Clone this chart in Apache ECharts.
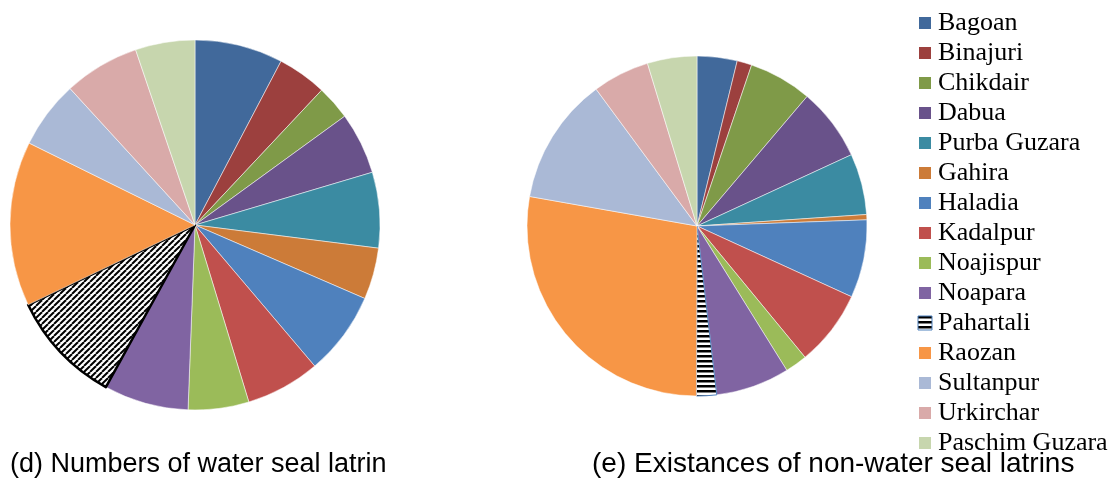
<!DOCTYPE html>
<html>
<head>
<meta charset="utf-8">
<script src="https://cdn.jsdelivr.net/npm/echarts@6/dist/echarts.min.js"></script>
<style>
  html, body { margin: 0; padding: 0; background: #fff; }
  #main { width: 1114px; height: 482px; }
</style>
</head>
<body>
<div id="main"></div>
<script>
// villages, in legend order
var villages = ['Bagoan', 'Binajuri', 'Chikdair', 'Dabua', 'Purba Guzara', 'Gahira', 'Haladia',
  'Kadalpur', 'Noajispur', 'Noapara', 'Pahartali', 'Raozan', 'Sultanpur', 'Urkirchar', 'Paschim Guzara'];
// (d) share of water seal latrines, %
var waterSeal = [7.7, 4.3, 3.0, 5.4, 6.6, 4.5, 7.3, 6.5, 5.3, 7.4, 9.9, 14.4, 5.9, 6.6, 5.2];
// (e) share of non-water seal latrines, %
var nonWaterSeal = [3.8, 1.4, 6.0, 6.9, 5.8, 0.5, 7.4, 7.2, 2.1, 7.0, 1.9, 27.7, 12.1, 5.4, 4.7];
var colors = ['#41699B', '#9C403E', '#7F9A48', '#69528A', '#3B8BA2', '#CC7B38', '#4F81BD',
  '#C0504D', '#9BBB59', '#8064A2', '#FFFFFF', '#F79646', '#AAB9D6', '#D9AAA9', '#C7D6AE'];
var captions = ['(d) Numbers of water seal latrin', '(e) Existances of non-water seal latrins'];

// hatch fills for Pahartali
function diagHatch() {
  var c = document.createElement('canvas');
  c.width = 6; c.height = 6;
  var g = c.getContext('2d');
  g.fillStyle = '#fff'; g.fillRect(0, 0, 6, 6);
  g.strokeStyle = '#000'; g.lineWidth = 2;
  for (var k = -6; k <= 12; k += 6) {
    g.beginPath(); g.moveTo(k, 6); g.lineTo(k + 6, 0); g.stroke();
  }
  return c;
}
function horizHatch() {
  var c = document.createElement('canvas');
  c.width = 4; c.height = 5;
  var g = c.getContext('2d');
  g.fillStyle = '#fff'; g.fillRect(0, 0, 4, 5);
  g.fillStyle = '#000'; g.fillRect(0, 0, 4, 2.5);
  return c;
}

function buildData(values, hatch, hatchBorder, hatchBorderWidth) {
  return villages.map(function (name, i) {
    var item = { name: name, value: values[i], itemStyle: { color: colors[i] } };
    if (name === 'Pahartali') {
      item.itemStyle = {
        color: { image: hatch, repeat: 'repeat' },
        borderColor: hatchBorder,
        borderWidth: hatchBorderWidth
      };
    }
    return item;
  });
}

var legendData = villages.map(function (name, i) {
  if (name === 'Pahartali') {
    return { name: name, itemStyle: { color: { image: horizHatch(), repeat: 'repeat' }, borderColor: '#4F81BD', borderWidth: 1 } };
  }
  return { name: name, itemStyle: { color: colors[i] } };
});

var captionStyle = { fontFamily: 'Liberation Sans', fontWeight: 'normal', fontSize: 27, color: '#000' };

var chart = echarts.init(document.getElementById('main'));
var option = {
  animation: false,
  title: [
    { text: captions[0], left: 10, top: 451, padding: 0, textStyle: captionStyle },
    { text: captions[1], left: 592, top: 450, padding: 0,
      textStyle: Object.assign({}, captionStyle, { fontSize: 28 }) }
  ],
  legend: {
    orient: 'vertical',
    left: 917,
    top: 10,
    height: 470,
    padding: 0,
    itemWidth: 14,
    itemHeight: 14,
    itemGap: 4,
    icon: 'rect',
    data: legendData,
    textStyle: { fontFamily: 'Liberation Serif', fontSize: 26, color: '#000', padding: [0, 0, 0, 1] }
  },
  series: [
    {
      type: 'pie',
      center: [195, 225],
      radius: 185,
      startAngle: 90,
      label: { show: false },
      labelLine: { show: false },
      emphasis: { disabled: true },
      itemStyle: { borderColor: '#fff', borderWidth: 0.5 },
      data: buildData(waterSeal, diagHatch(), '#000', 2.5)
    },
    {
      type: 'pie',
      center: [697, 226],
      radius: 170,
      startAngle: 90,
      label: { show: false },
      labelLine: { show: false },
      emphasis: { disabled: true },
      itemStyle: { borderColor: '#fff', borderWidth: 0.5 },
      data: buildData(nonWaterSeal, horizHatch(), '#4F81BD', 1)
    }
  ]
};
chart.setOption(option);
</script>
</body>
</html>
